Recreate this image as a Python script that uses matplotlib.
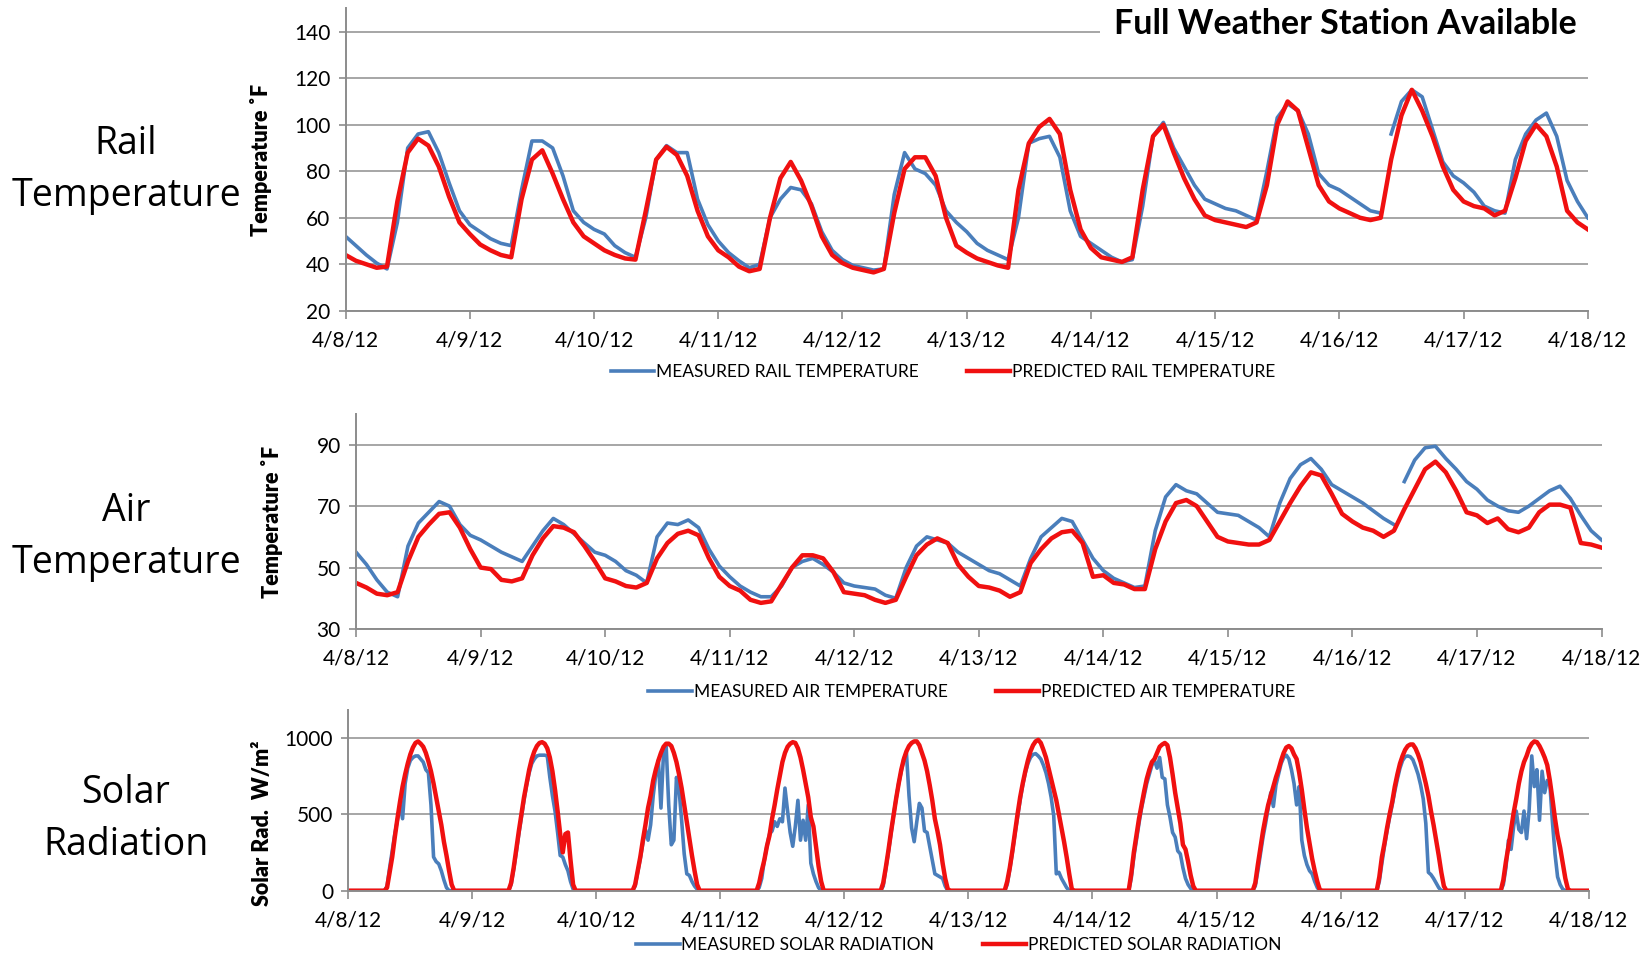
import numpy as np
import matplotlib
matplotlib.use("Agg")
import matplotlib.pyplot as plt
from matplotlib.lines import Line2D
from matplotlib.patches import Rectangle

# ---------------------------------------------------------------- data
DATES = ["4/8/12", "4/9/12", "4/10/12", "4/11/12", "4/12/12", "4/13/12",
         "4/14/12", "4/15/12", "4/16/12", "4/17/12", "4/18/12"]

# two-hourly readings (deg F), 4/8/12 00:00 through 4/18/12 00:00
RAIL_MEASURED = [
    52, 48, 44, 40.5, 38, 58, 90, 96, 97, 88, 75, 63,
    57, 54, 51, 49, 48, 72, 93, 93, 90, 78, 63, 58,
    55, 53, 48, 45, 43, 60, 85, 91, 88, 88, 68, 57,
    50, 45, 41.5, 38.5, 40, 60, 68, 73, 72, 66, 54, 46,
    42, 39.5, 38.5, 37.5, 38, 70, 88, 81, 79, 74, 63, 58,
    54, 49, 46, 44, 42, 60, 92, 94, 95, 86, 63, 52,
    49, 46, 43, 41, 42, 65, 95, 101, 90, 82, 74, 68,
    66, 64, 63, 61, 59, 80, 103, 109, 106, 96, 79, 74,
    72, 69, 66, 63, 62, 96, 110, 115, 112, 98, 84, 78,
    75, 71, 65, 63, 62, 85, 96, 102, 105, 95, 76, 67,
    60,
]
RAIL_PREDICTED = [
    44, 41.5, 40, 38.5, 39, 67, 88, 94, 91, 82, 69, 58,
    53, 48.5, 46, 44, 43, 68, 85, 89, 79, 68, 58, 52,
    49, 46, 44, 42.5, 42, 63, 85, 90.5, 87, 78, 63, 52,
    46, 43, 39, 37, 38, 60, 77, 84, 76, 65, 52, 44,
    40.5, 38.5, 37.5, 36.5, 38, 62, 81, 86, 86, 78, 60, 48,
    45, 42.5, 41, 39.5, 38.5, 72, 92, 99, 102.5, 96, 72, 55,
    47, 43, 42, 41, 43, 72, 95, 100, 88, 77, 68, 61,
    59, 58, 57, 56, 58, 74, 100, 110, 106, 90, 74, 67,
    64, 62, 60, 59, 60, 85, 104, 115, 106, 95, 82, 72,
    67, 65, 64, 61, 63, 77, 93, 100, 95, 82, 63, 58,
    55,
]
AIR_MEASURED = [
    55, 51, 46, 42, 40.5, 57, 64.5, 68, 71.5, 70, 64, 60.5,
    59, 57, 55, 53.5, 52, 57, 62, 66, 64, 61, 58, 55,
    54, 52, 49, 47.5, 45, 60, 64.5, 64, 65.5, 63, 56, 50.5,
    47, 44, 42, 40.5, 40.5, 44, 50, 52, 53, 51, 48.5, 45,
    44, 43.5, 43, 41, 40, 50, 57, 60, 59, 58, 55, 53,
    51, 49, 48, 46, 44, 53, 60, 63, 66, 65, 59, 53,
    49, 46.5, 45, 43.5, 44, 62, 73, 77, 75, 74, 71, 68,
    67.5, 67, 65, 63, 60, 71, 79, 83.5, 85.5, 82, 77, 75,
    73, 71, 68.5, 66, 64, 78, 85, 89, 89.5, 85.5, 82, 78,
    75.5, 72, 70, 68.5, 68, 70, 72.5, 75, 76.5, 72.5, 67, 62,
    59,
]
AIR_PREDICTED = [
    45, 43.5, 41.5, 41, 42, 52, 60, 64, 67.5, 68, 63, 56,
    50, 49.5, 46, 45.5, 46.5, 54, 59.5, 63.5, 63, 61.5, 57, 52,
    46.5, 45.5, 44, 43.5, 45, 53, 58, 61, 62, 60.5, 53, 47,
    44, 42.5, 39.5, 38.5, 39, 44.5, 50, 54, 54, 53, 48.5, 42,
    41.5, 41, 39.5, 38.5, 39.5, 47, 54, 57.5, 59.5, 58, 51, 47,
    44, 43.5, 42.5, 40.5, 42, 51.5, 56, 59.5, 61.5, 62, 58, 47,
    47.5, 45, 44.5, 43, 43, 56, 65, 71, 72, 70, 65, 60,
    58.5, 58, 57.5, 57.5, 59, 65, 71, 76.5, 81, 80, 74, 67.5,
    65, 63, 62, 60, 62, 69, 75.5, 82, 84.5, 81, 75, 68,
    67, 64.5, 66, 62.5, 61.5, 63, 68, 70.5, 70.5, 69.5, 58, 57.5,
    56.5,
]
# weather-station dropout (day index, hour) in the measured records
DROPOUT = (8, 9)

# half-hourly daytime solar radiation (W/m^2), 07:00 .. 20:30 each day
SOLAR_HOURS = [7, 7.5, 8, 8.5, 9, 9.5, 10, 10.5, 11, 11.5, 12, 12.5, 13, 13.5,
               14, 14.5, 15, 15.5, 16, 16.5, 17, 17.5, 18, 18.5, 19, 19.5, 20, 20.5]
SOLAR_MEASURED = [
    [0, 30, 150, 260, 370, 460, 560, 470, 700, 800, 850, 870, 880, 880,
     860, 840, 790, 770, 560, 220, 190, 175, 130, 70, 20, 0, 0, 0],
    [0, 40, 140, 250, 370, 480, 590, 690, 770, 830, 860, 880, 885, 885,
     885, 880, 740, 620, 520, 380, 230, 220, 170, 130, 60, 10, 0, 0],
    [0, 30, 120, 210, 310, 400, 330, 430, 620, 760, 850, 540, 900, 950,
     560, 300, 330, 740, 660, 460, 240, 110, 100, 60, 30, 10, 0, 0],
    [0, 20, 80, 200, 290, 370, 390, 450, 420, 470, 450, 670, 520, 380,
     290, 420, 590, 330, 460, 330, 560, 180, 110, 60, 20, 0, 0, 0],
    [0, 30, 140, 250, 370, 490, 600, 700, 780, 860, 900, 620, 410, 320,
     450, 570, 540, 390, 380, 290, 200, 110, 100, 90, 80, 30, 0, 0],
    [0, 40, 140, 250, 370, 480, 590, 690, 770, 830, 870, 890, 895, 880,
     860, 820, 770, 700, 610, 490, 110, 120, 80, 50, 20, 0, 0, 0],
    [0, 80, 220, 330, 440, 540, 620, 700, 760, 820, 850, 800, 870, 740,
     730, 560, 480, 380, 350, 260, 240, 150, 80, 40, 15, 0, 0, 0],
    [0, 30, 130, 240, 350, 440, 540, 640, 550, 690, 760, 830, 870, 885,
     860, 790, 700, 560, 680, 330, 230, 170, 130, 110, 60, 20, 0, 0],
    [0, 60, 180, 290, 390, 480, 560, 650, 730, 800, 850, 875, 880, 875,
     855, 810, 760, 690, 600, 440, 120, 105, 80, 50, 20, 0, 0, 0],
    [0, 40, 150, 330, 270, 420, 520, 400, 380, 520, 340, 530, 880, 680,
     790, 460, 780, 640, 720, 700, 450, 240, 90, 40, 10, 0, 0, 0],
]
SOLAR_PREDICTED = [
    [0, 20, 120, 220, 350, 470, 580, 680, 760, 830, 890, 935, 965, 975,
     960, 940, 900, 845, 780, 700, 610, 520, 430, 320, 230, 130, 40, 0],
    [0, 50, 150, 270, 390, 500, 610, 700, 790, 860, 910, 945, 965, 970,
     960, 930, 870, 780, 660, 520, 370, 250, 370, 380, 200, 40, 0, 0],
    [0, 40, 130, 220, 330, 430, 540, 620, 720, 790, 850, 900, 940, 960,
     960, 945, 900, 840, 760, 670, 560, 450, 340, 230, 130, 40, 0, 0],
    [0, 50, 130, 200, 290, 360, 470, 560, 660, 750, 840, 900, 940, 960,
     970, 965, 930, 870, 790, 700, 610, 480, 420, 290, 160, 60, 0, 0],
    [0, 50, 150, 260, 380, 490, 600, 700, 790, 860, 910, 945, 965, 975,
     975, 950, 900, 850, 780, 690, 590, 470, 390, 300, 180, 80, 10, 0],
    [0, 60, 150, 260, 380, 500, 610, 700, 780, 850, 910, 950, 975, 985,
     965, 920, 870, 800, 730, 660, 590, 500, 410, 320, 220, 110, 10, 0],
    [0, 110, 250, 360, 470, 560, 650, 730, 790, 840, 860, 900, 940, 955,
     965, 950, 870, 760, 640, 540, 440, 300, 270, 190, 100, 30, 0, 0],
    [0, 50, 170, 280, 390, 480, 560, 620, 680, 740, 790, 850, 900, 935,
     945, 930, 890, 860, 770, 660, 530, 410, 310, 210, 130, 60, 5, 0],
    [0, 90, 220, 310, 410, 500, 580, 680, 760, 830, 880, 920, 945, 955,
     955, 930, 890, 840, 770, 700, 620, 520, 430, 330, 230, 120, 30, 0],
    [0, 70, 190, 290, 400, 510, 600, 700, 780, 840, 880, 930, 960, 975,
     970, 945, 910, 870, 820, 720, 600, 470, 360, 280, 180, 80, 10, 0],
]

# ---------------------------------------------------------------- helpers
BLUE = "#4a7ebb"
RED = "#f01010"
GRAY = "#8c8c8c"
GRID = "#a6a6a6"
TICK_FONT = "Lato"
LABEL_FONT = "Open Sans"

W, H = 1652, 957
fig = plt.figure(figsize=(W / 100, H / 100), dpi=100)


def axes_px(left, top, right, bottom):
    return fig.add_axes([left / W, 1 - bottom / H, (right - left) / W, (bottom - top) / H])


def two_hourly(values, gap=None):
    t = np.arange(len(values)) * 2.0 / 24.0
    y = np.asarray(values, dtype=float)
    if gap is not None:
        tg = gap[0] + gap[1] / 24.0
        i = np.searchsorted(t, tg)
        t = np.insert(t, i, tg)
        y = np.insert(y, i, np.nan)
    return t, y


def solar_series(rows):
    hours = np.asarray(SOLAR_HOURS) / 24.0
    t = np.concatenate([[0.0]] + [d + hours for d in range(len(rows))] + [[len(rows)]])
    y = np.concatenate([[0.0]] + [np.asarray(r, float) for r in rows] + [[0.0]])
    return t, y


def style(ax, ylim, yticks, ylabel, label_xy, label_size):
    ax.set_xlim(0, 10)
    ax.set_ylim(*ylim)
    ax.set_xticks(range(len(DATES)))
    ax.set_xticklabels(DATES, fontfamily=TICK_FONT, fontsize=15)
    ax.set_yticks(yticks)
    ax.set_yticklabels([str(v) for v in yticks], fontfamily=TICK_FONT, fontsize=15)
    for s in ("top", "right"):
        ax.spines[s].set_visible(False)
    for s in ("left", "bottom"):
        ax.spines[s].set_color(GRAY)
        ax.spines[s].set_linewidth(1.4)
    ax.tick_params(axis="x", direction="out", length=6, width=1.2, color=GRAY, pad=8)
    ax.tick_params(axis="y", direction="out", length=5, width=1.2, color=GRAY, pad=6)
    ax.yaxis.grid(True, color=GRID, linewidth=1.4)
    ax.set_axisbelow(True)
    ax.set_ylabel(ylabel, fontfamily=TICK_FONT, fontweight="heavy", fontsize=label_size)
    ax.yaxis.set_label_coords(*label_xy)


def legend(ax, labels, cx, cy):
    handles = [Line2D([], [], color=BLUE, lw=2.6), Line2D([], [], color=RED, lw=3.2)]
    ax.legend(handles, labels, loc="center", bbox_to_anchor=(cx / W, 1 - cy / H),
              bbox_transform=fig.transFigure, ncol=2, frameon=False,
              handlelength=2.5, handletextpad=0.1, columnspacing=2.8,
              prop={"family": TICK_FONT, "size": 12.5})


# ---------------------------------------------------------------- rail
ax1 = axes_px(345.6, 8.4, 1587.8, 310.8)
style(ax1, (20, 150), [20, 40, 60, 80, 100, 120, 140], "Temperature \u02daF",
      (-0.059, 0.5), 15.5)
t, y = two_hourly(RAIL_MEASURED, DROPOUT)
ax1.plot(t, y, color=BLUE, lw=2.6, solid_joinstyle="round")
t, y = two_hourly(RAIL_PREDICTED)
ax1.plot(t, y, color=RED, lw=3.2, solid_joinstyle="round")
legend(ax1, ["MEASURED RAIL TEMPERATURE", "PREDICTED RAIL TEMPERATURE"], 943, 372)

# ---------------------------------------------------------------- air
ax2 = axes_px(356.1, 414, 1601.5, 629)
style(ax2, (30, 100), [30, 50, 70, 90], "Temperature \u02daF", (-0.059, 0.5), 15.5)
t, y = two_hourly(AIR_MEASURED, DROPOUT)
ax2.plot(t, y, color=BLUE, lw=2.6, solid_joinstyle="round")
t, y = two_hourly(AIR_PREDICTED)
ax2.plot(t, y, color=RED, lw=3.2, solid_joinstyle="round")
legend(ax2, ["MEASURED AIR TEMPERATURE", "PREDICTED AIR TEMPERATURE"], 972, 692)

# ---------------------------------------------------------------- solar
ax3 = axes_px(348.3, 710, 1588.6, 890.7)
style(ax3, (0, 1180), [0, 500, 1000], "Solar Rad.  W/m\u00b2", (-0.061, 0.375), 15.5)
t, y = solar_series(SOLAR_MEASURED)
ax3.plot(t, y, color=BLUE, lw=2.6, solid_joinstyle="round")
t, y = solar_series(SOLAR_PREDICTED)
ax3.plot(t, y, color=RED, lw=3.2, solid_joinstyle="round")
legend(ax3, ["MEASURED SOLAR RADIATION", "PREDICTED SOLAR RADIATION"], 959, 945)

# ---------------------------------------------------------------- titles
fig.add_artist(Rectangle((1100 / W, 1 - 48 / H), (W - 1100) / W, 46 / H,
                         transform=fig.transFigure, facecolor="white",
                         edgecolor="none", zorder=5))
fig.text(1577 / W, 1 - 24 / H, "Full Weather Station Available", ha="right", va="center",
         fontfamily=TICK_FONT, fontweight="bold", fontsize=24.5, zorder=6)

for text, cy in (("Rail\nTemperature", 170), ("Air\nTemperature", 537),
                 ("Solar\nRadiation", 819)):
    fig.text(126 / W, 1 - cy / H, text, ha="center", va="center", fontfamily=LABEL_FONT,
             fontsize=27, linespacing=1.5)

fig.savefig("out.png", dpi=100, facecolor="white")
